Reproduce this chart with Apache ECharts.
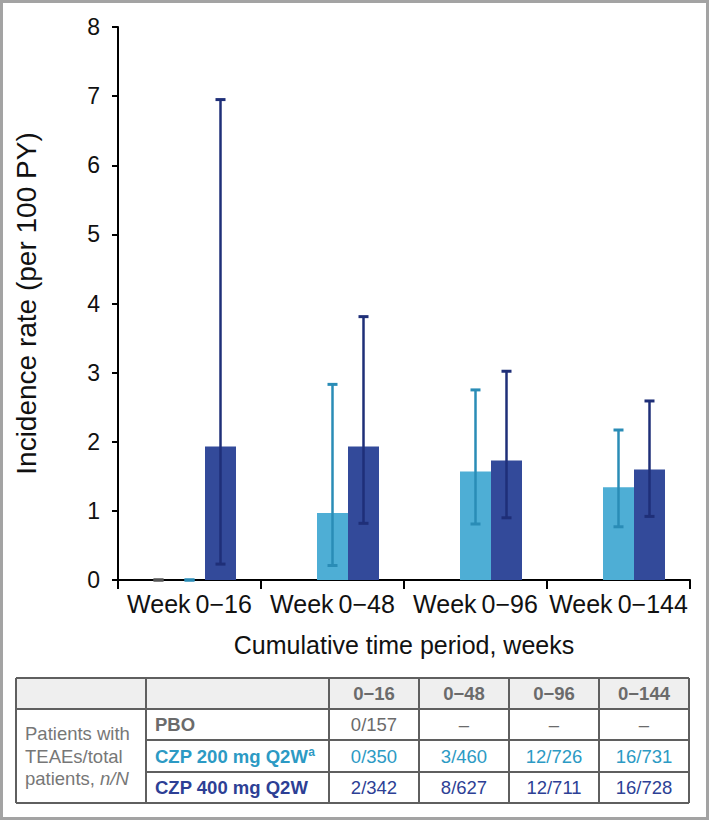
<!DOCTYPE html>
<html>
<head>
<meta charset="utf-8">
<script src="https://cdn.jsdelivr.net/npm/echarts@6/dist/echarts.min.js"></script>
<style>
html,body{margin:0;padding:0;background:#fff;}
#chart{width:709px;height:820px;}
</style>
</head>
<body>
<div id="chart"></div>
<script>
// ---- data ----
const categories = ['Week\u20090\u221216', 'Week\u20090\u221248', 'Week\u20090\u221296', 'Week\u20090\u2212144'];
const seriesNames = ['PBO', 'CZP 200 mg Q2W', 'CZP 400 mg Q2W'];
const pboRate = [0, null, null, null];
const pboLow = [0, null, null, null];
const pboHigh = [0, null, null, null];
const czp200Rate = [0, 0.97, 1.57, 1.34];
const czp200Low = [0, 0.21, 0.81, 0.77];
const czp200High = [0, 2.83, 2.75, 2.17];
const czp400Rate = [1.93, 1.93, 1.73, 1.60];
const czp400Low = [0.23, 0.82, 0.90, 0.92];
const czp400High = [6.95, 3.81, 3.02, 2.59];
const yTicks = [0, 1, 2, 3, 4, 5, 6, 7, 8];

const tableCols = ['0\u221216', '0\u221248', '0\u221296', '0\u2212144'];
const tableRowLabels = ['PBO', 'CZP 200 mg Q2W', 'CZP 400 mg Q2W'];
const pboCounts = ['0/157', '\u2013', '\u2013', '\u2013'];
const czp200Counts = ['0/350', '3/460', '12/726', '16/731'];
const czp400Counts = ['2/342', '8/627', '12/711', '16/728'];

// ---- styles ----
const FONT = '"Liberation Sans", Arial, sans-serif';
const C_PBO = '#6b6b6b';
const C_200 = '#4eaed5';
const C_400 = '#334a9a';
const C_200_ERR = '#2a8cb6';
const C_400_ERR = '#1f2f78';
const C_200_TXT = '#2c9ac4';
const C_400_TXT = '#2d3f95';
const BAR_W = 31;

const chart = echarts.init(document.getElementById('chart'), null, {renderer: 'svg'});

function errSeries(name, lows, highs, idx, color) {
  const data = [];
  lows.forEach((l, i) => { if (l != null) data.push([i, l, highs[i]]); });
  return {
    type: 'custom', name: name + ' CI', data: data, z: 10,
    renderItem: function (params, api) {
      const i = api.value(0);
      const lo = api.coord([i, api.value(1)]);
      const hi = api.coord([i, api.value(2)]);
      const x = lo[0] + (idx - 1) * BAR_W;
      const h = 5;
      return {type: 'group', children: [
        {type: 'line', shape: {x1: x, y1: hi[1], x2: x, y2: lo[1]}, style: {stroke: color, lineWidth: 2.5}},
        {type: 'line', shape: {x1: x - h, y1: hi[1], x2: x + h, y2: hi[1]}, style: {stroke: color, lineWidth: 3}},
        {type: 'line', shape: {x1: x - h, y1: lo[1], x2: x + h, y2: lo[1]}, style: {stroke: color, lineWidth: 3}}
      ]};
    }
  };
}

// ---- table graphic ----
const colX = [16, 146, 329, 419, 509, 599, 689];
const rowY = [678, 709, 740, 772, 803];
const LINE = '#5f5f5f';
const TFS = 18.5;
const g = [];
g.push({type: 'rect', shape: {x: 1.5, y: 1.5, width: 706, height: 817}, style: {fill: 'none', stroke: '#a3a3a3', lineWidth: 3}, z: 100});
g.push({type: 'rect', shape: {x: colX[0], y: rowY[0], width: colX[6] - colX[0], height: rowY[1] - rowY[0]}, style: {fill: '#efefef'}});
// horizontal lines
g.push({type: 'line', shape: {x1: colX[0], y1: rowY[0], x2: colX[6], y2: rowY[0]}, style: {stroke: LINE, lineWidth: 2}});
g.push({type: 'line', shape: {x1: colX[0], y1: rowY[1], x2: colX[6], y2: rowY[1]}, style: {stroke: LINE, lineWidth: 2}});
g.push({type: 'line', shape: {x1: colX[1], y1: rowY[2], x2: colX[6], y2: rowY[2]}, style: {stroke: LINE, lineWidth: 2}});
g.push({type: 'line', shape: {x1: colX[1], y1: rowY[3], x2: colX[6], y2: rowY[3]}, style: {stroke: LINE, lineWidth: 2}});
g.push({type: 'line', shape: {x1: colX[0], y1: rowY[4], x2: colX[6], y2: rowY[4]}, style: {stroke: LINE, lineWidth: 2}});
colX.forEach(x => g.push({type: 'line', shape: {x1: x, y1: rowY[0], x2: x, y2: rowY[4]}, style: {stroke: LINE, lineWidth: 2}}));
// header
tableCols.forEach((t, j) => g.push({type: 'text', x: (colX[j + 2] + colX[j + 3]) / 2, y: (rowY[0] + rowY[1]) / 2,
  style: {text: t, fill: C_PBO, font: 'bold ' + TFS + 'px ' + FONT, textAlign: 'center', textVerticalAlign: 'middle'}}));
// merged first column
g.push({type: 'text', x: 25, y: (rowY[1] + rowY[4]) / 2, style: {
  text: 'Patients with\nTEAEs/total\n{t|patients, }{i|n/N}', textAlign: 'left', textVerticalAlign: 'middle',
  fill: '#777', font: TFS + 'px ' + FONT, lineHeight: 22.5,
  rich: {t: {fill: '#777', fontSize: TFS, fontFamily: FONT, lineHeight: 22.5}, i: {fill: '#777', fontSize: TFS, fontFamily: FONT, fontStyle: 'italic', lineHeight: 22.5}}
}});
const rowColors = [C_PBO, C_200_TXT, C_400_TXT];
const rowData = [pboCounts, czp200Counts, czp400Counts];
tableRowLabels.forEach((lab, r) => {
  const cy = (rowY[r + 1] + rowY[r + 2]) / 2;
  const txt = r === 1 ? '{b|' + lab + '}{s|a}' : '{b|' + lab + '}';
  g.push({type: 'text', x: colX[1] + 9, y: cy, style: {text: txt, textAlign: 'left', textVerticalAlign: 'middle',
    rich: {b: {fill: rowColors[r], fontSize: TFS, fontWeight: 'bold', fontFamily: FONT},
           s: {fill: rowColors[r], fontSize: 12, fontWeight: 'bold', fontFamily: FONT, verticalAlign: 'top', padding: [0, 0, 8, 0]}}}});
  rowData[r].forEach((v, j) => g.push({type: 'text', x: (colX[j + 2] + colX[j + 3]) / 2, y: cy,
    style: {text: v, fill: rowColors[r], font: TFS + 'px ' + FONT, textAlign: 'center', textVerticalAlign: 'middle'}}));
});

const option = {
  animation: false,
  backgroundColor: '#fff',
  textStyle: {fontFamily: FONT},
  grid: {left: 118, right: 19, top: 27, bottom: 240, containLabel: false},
  xAxis: {
    type: 'category', data: categories,
    name: 'Cumulative time period, weeks', nameLocation: 'middle', nameGap: 52,
    nameTextStyle: {fontSize: 25, color: '#111', fontFamily: FONT},
    axisLine: {lineStyle: {color: '#000', width: 2}},
    axisTick: {show: true, alignWithLabel: false, length: 9, lineStyle: {color: '#000', width: 2}},
    axisLabel: {fontSize: 25, color: '#111', margin: 11, fontFamily: FONT, interval: 0}
  },
  yAxis: {
    type: 'value', min: yTicks[0], max: yTicks[yTicks.length - 1], interval: 1,
    name: 'Incidence rate (per 100 PY)', nameLocation: 'middle', nameGap: 78,
    nameTextStyle: {fontSize: 28, color: '#111', fontFamily: FONT},
    axisLine: {show: true, lineStyle: {color: '#000', width: 2}},
    axisTick: {show: true, length: 6, lineStyle: {color: '#000', width: 2}},
    axisLabel: {fontSize: 23, color: '#111', margin: 18, fontFamily: FONT},
    splitLine: {show: false}
  },
  series: [
    {type: 'bar', name: seriesNames[0], data: pboRate, barWidth: BAR_W, barGap: '0%', itemStyle: {color: '#9a9a9a'}},
    {type: 'bar', name: seriesNames[1], data: czp200Rate, barWidth: BAR_W, barGap: '0%', itemStyle: {color: C_200}},
    {type: 'bar', name: seriesNames[2], data: czp400Rate, barWidth: BAR_W, barGap: '0%', itemStyle: {color: C_400}},
    errSeries(seriesNames[0], pboLow, pboHigh, 0, '#555'),
    errSeries(seriesNames[1], czp200Low, czp200High, 1, C_200_ERR),
    errSeries(seriesNames[2], czp400Low, czp400High, 2, C_400_ERR)
  ],
  graphic: g
};
chart.setOption(option);
</script>
</body>
</html>
